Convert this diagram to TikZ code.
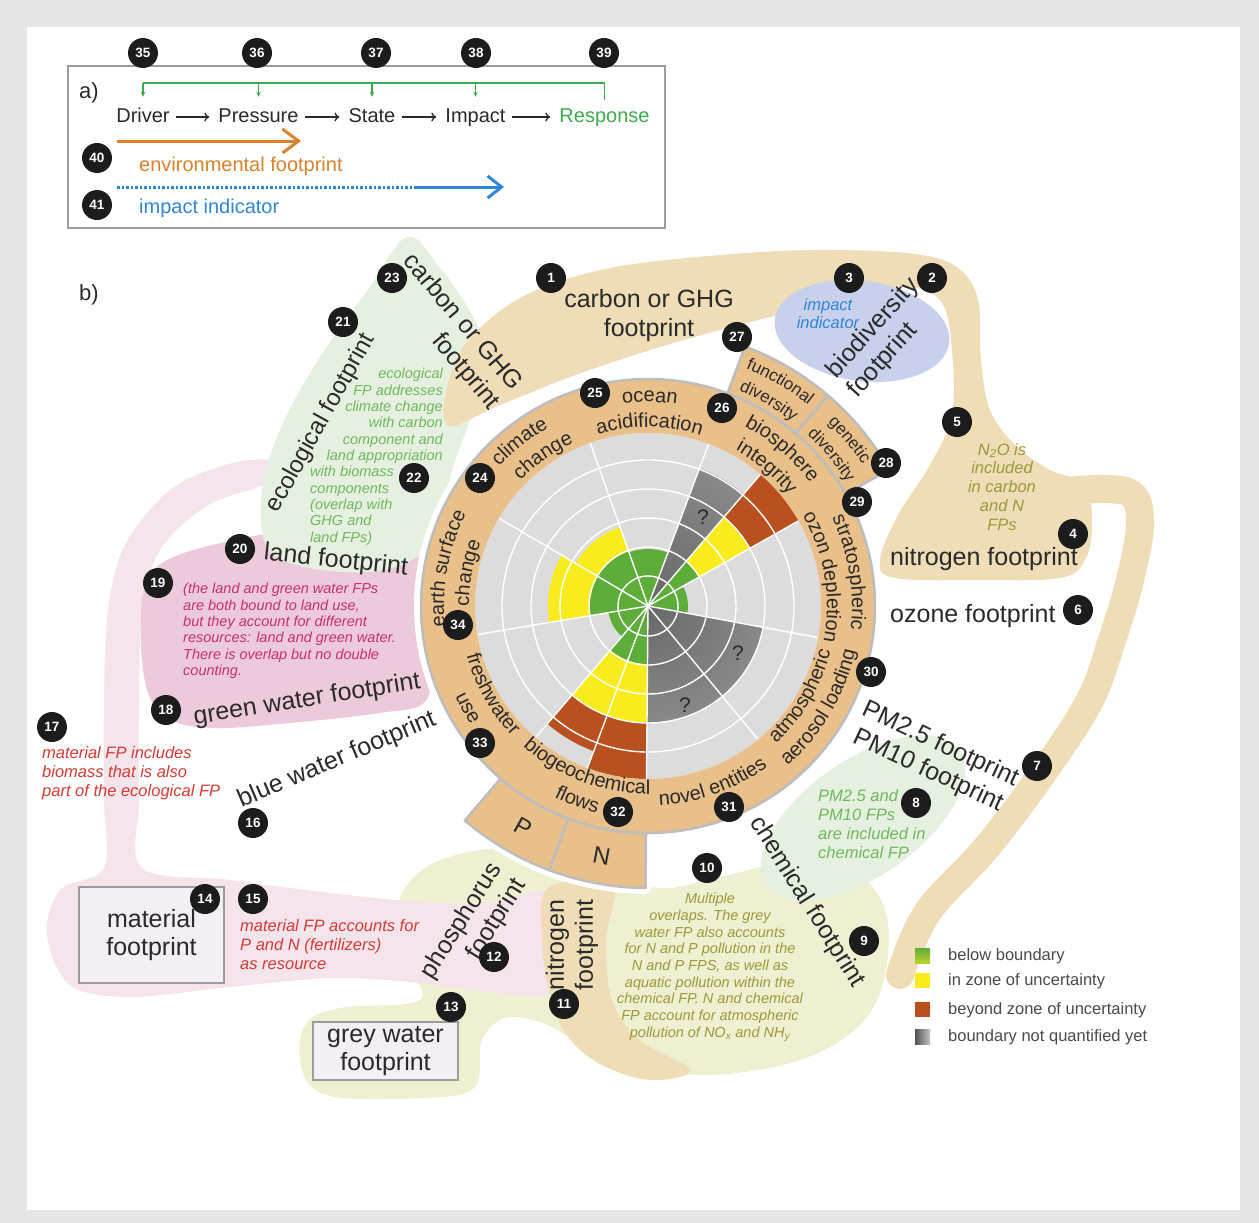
\documentclass[tikz,border=0pt]{standalone}
\usepackage{fontspec}
\setmainfont{Liberation Sans}
\usetikzlibrary{arrows.meta,decorations.text}

\definecolor{framegray}{HTML}{E6E6E6}
\definecolor{txt}{HTML}{2A2A2A}
\definecolor{badgec}{HTML}{1C1C1C}
\definecolor{ringtan}{HTML}{E9BF8A}
\definecolor{ringedge}{HTML}{BDBDBD}
\definecolor{diskgray}{HTML}{DCDCDC}
\definecolor{pbgreen}{HTML}{5EAD3B}
\definecolor{pbyellow}{HTML}{F8EC1E}
\definecolor{pbbrown}{HTML}{B9501F}
\definecolor{gdark}{HTML}{686868}
\definecolor{glight}{HTML}{A9A9A9}
\definecolor{blobtan}{HTML}{EEDDB7}
\definecolor{blobolive}{HTML}{EFEFD1}
\definecolor{blobpinklt}{HTML}{F6E4EC}
\definecolor{blobpink}{HTML}{ECCADB}
\definecolor{blobmint}{HTML}{E5F0E0}
\definecolor{blobblue}{HTML}{C9D0EC}
\definecolor{boxfill}{HTML}{F3EFF4}
\definecolor{boxedge}{HTML}{9C9C9C}
\definecolor{olivetxt}{HTML}{9A9A3A}
\definecolor{greentxt}{HTML}{70B85E}
\definecolor{redtxt}{HTML}{D43B33}
\definecolor{pinktxt}{HTML}{C8306C}
\definecolor{bluetxt}{HTML}{2F86D8}
\definecolor{orangec}{HTML}{D9812B}
\definecolor{respgreen}{HTML}{3DAA4C}

% radial fades: 50bp is the rim of the shaded circle
\pgfdeclareradialshading{greentoyellow}{\pgfpoint{0bp}{0bp}}{color(0bp)=(pbgreen); color(27bp)=(pbgreen); color(50bp)=(pbyellow); color(100bp)=(pbyellow)}
\pgfdeclareradialshading{grayfade}{\pgfpoint{0bp}{0bp}}{color(0bp)=(gdark); color(50bp)=(glight); color(100bp)=(glight)}

\newcommand\ringfont{\fontsize{20}{20}\selectfont}
\newcommand\tabfont{\fontsize{17}{17}\selectfont}
% filled wedge around the disk centre: start angle, end angle, radius, colour
\newcommand\pbsector[4]{\fill[#4] (0,0) -- (#1:#3) arc[start angle=#1,end angle=#2,radius=#3] -- cycle;}
% shaded wedge: start angle, end angle, radius, shading
\newcommand\pbshade[4]{\begin{scope}\clip (0,0) -- (#1:#3) arc[start angle=#1,end angle=#2,radius=#3] -- cycle;\shade[shading=#4] (0,0) circle (#3);\end{scope}}
% curved labels: centre angle, baseline radius, half span, text
\newcommand\cwtext[4]{\path[decorate,decoration={text along path,text align=center,text color=txt,text={#4}}] (#1+#3:#2) arc[start angle=#1+#3,end angle=#1-#3,radius=#2];}
\newcommand\ccwtext[4]{\path[decorate,decoration={text along path,text align=center,text color=txt,text={#4}}] (#1-#3:#2) arc[start angle=#1-#3,end angle=#1+#3,radius=#2];}

\begin{document}
\begin{tikzpicture}[x=1pt,y=1pt,
  badge/.style={circle,fill=badgec,text=white,minimum size=30pt,inner sep=0pt,font=\fontsize{13.5}{13.5}\selectfont\bfseries},
  biglabel/.style={text=txt,inner sep=0pt,font=\fontsize{25}{29}\selectfont},
  stepname/.style={text=txt,inner sep=0pt,font=\fontsize{20}{20}\selectfont,text height=14pt,text depth=4pt,anchor=base},
  steparrow/.style={draw=txt,line width=1.3pt,-{To[length=5pt,width=9pt]},shorten <=6pt,shorten >=9pt},
  fbline/.style={draw=respgreen,line width=1.2pt},
  noteit/.style={inner sep=0pt,font=\fontsize{14.5}{16.4}\selectfont\itshape},
  notebig/.style={inner sep=0pt,font=\fontsize{16.5}{19}\selectfont\itshape},
  boxnode/.style={draw=boxedge,fill=boxfill,line width=1.5pt,inner sep=0pt,align=center,text=txt,font=\fontsize{25}{28}\selectfont},
  legtxt/.style={inner sep=0pt,anchor=west,text=txt!85,font=\fontsize{16.5}{16.5}\selectfont},
  qmark/.style={inner sep=0pt,text=txt,font=\fontsize{21}{21}\selectfont},
  tablbl/.style={inner sep=0pt,text=txt,font=\fontsize{24}{24}\selectfont}
]
\useasboundingbox (0,0) rectangle (1259,-1223);
\fill[framegray] (0,0) rectangle (1259,-1223);
\fill[white] (27,-27) rectangle (1240,-1210);

% ---------------- panel a: DPSIR chain ----------------
\draw[boxedge,line width=1.5pt] (68,-66) rectangle (665,-228);
\node[text=txt,inner sep=0pt,font=\fontsize{22}{22}\selectfont] (pa) at (89,-93) {a)};
\node[stepname] (drv) at (143,-122) {Driver};
\node[stepname] (prs) at (258.5,-122) {Pressure};
\node[stepname] (sta) at (372,-122) {State};
\node[stepname] (imp) at (475.5,-122) {Impact};
\node[stepname,text=respgreen] (rsp) at (604.5,-122) {Response};
\draw[steparrow] (drv) -- (prs);
\draw[steparrow] (prs) -- (sta);
\draw[steparrow] (sta) -- (imp);
\draw[steparrow] (imp) -- (rsp);
\coordinate (fbtop) at (0,-83);
\draw[fbline] ([yshift=8pt]rsp.north) -- (rsp.north |- fbtop) -- (drv.north |- fbtop);
\foreach \n in {drv,prs,sta,imp}
  \draw[fbline,-{Stealth[length=5pt,width=4.5pt]}] (\n.north |- fbtop) -- ([yshift=11pt]\n.north);
\coordinate (efs) at (117,-141);
\coordinate (efe) at (301,-141);
\draw[orangec,line width=3pt,-{Straight Barb[length=16pt,width=24pt]}] (efs) -- (efe);
\node[inner sep=0pt,anchor=west,text=orangec,font=\fontsize{20}{20}\selectfont] (eflbl) at (139,-166) {environmental footprint};
\coordinate (iis) at (117,-187);
\coordinate (iim) at (417,-187);
\coordinate (iie) at (504,-187);
\draw[bluetxt,line width=3pt,dash pattern=on 2.5pt off 2pt] (iis) -- (iim);
\draw[bluetxt,line width=3pt,-{Straight Barb[length=14pt,width=22pt]}] (iim) -- (iie);
\node[inner sep=0pt,anchor=west,text=bluetxt,font=\fontsize{20}{20}\selectfont] (iilbl) at (139,-208) {impact indicator};

% ---------------- panel b: overlapping footprint areas ----------------
\node[text=txt,inner sep=0pt,font=\fontsize{22}{22}\selectfont] (pb) at (89,-295) {b)};

\fill[blobolive] plot[smooth cycle,tension=0.6] coordinates {(398,-905) (425,-868) (480,-850) (540,-852) (600,-870) (660,-888) (720,-877) (790,-862) (850,-868) (885,-910) (885,-975) (860,-1025) (800,-1060) (710,-1075) (630,-1065) (575,-1040) (540,-1022) (505,-1018) (482,-1040) (474,-1088) (420,-1098) (330,-1096) (302,-1070) (305,-1025) (340,-1008) (420,-1000) (405,-960)};
\fill[blobpinklt] plot[smooth cycle,tension=0.55] coordinates {(268,-460) (292,-476) (255,-488) (205,-507) (160,-550) (142,-610) (139,-700) (139,-800) (142,-868) (230,-880) (330,-893) (420,-902) (490,-903) (550,-892) (552,-945) (550,-993) (490,-992) (410,-982) (330,-978) (230,-987) (130,-997) (70,-985) (47,-935) (60,-890) (104,-868) (104,-800) (104,-700) (108,-610) (125,-545) (170,-490) (225,-465)};
\fill[blobtan] plot[smooth cycle,tension=0.6] coordinates {(548,-888) (612,-884) (606,-940) (612,-1000) (640,-1040) (690,-1070) (650,-1080) (600,-1064) (566,-1034) (549,-990) (542,-940)};
\draw[blobtan,line width=28pt,line cap=round] plot[smooth,tension=0.6] coordinates {(1075,-490) (1128,-492) (1140,-522) (1130,-580) (1112,-640) (1090,-700) (1045,-770) (987,-847) (927,-913) (900,-975)};
\fill[blobpink] plot[smooth cycle,tension=0.6] coordinates {(142,-600) (162,-563) (225,-542) (300,-530) (380,-530) (418,-545) (430,-600) (430,-660) (425,-702) (380,-713) (300,-722) (215,-728) (168,-718) (145,-682)};
\fill[blobmint] plot[smooth cycle,tension=0.6] coordinates {(407,-237) (440,-268) (472,-315) (488,-360) (470,-420) (452,-470) (440,-520) (420,-555) (370,-572) (300,-566) (266,-545) (262,-490) (280,-430) (318,-360) (368,-290)};
\fill[blobtan] plot[smooth cycle,tension=0.6] coordinates {(447,-425) (452,-370) (478,-330) (530,-293) (610,-268) (720,-255) (820,-250) (915,-254) (958,-268) (978,-300) (981,-360) (990,-410) (1015,-445) (1050,-470) (1085,-485) (1092,-525) (1085,-560) (1060,-578) (980,-580) (895,-578) (880,-560) (898,-515) (930,-465) (952,-415) (952,-350) (942,-303) (910,-287) (860,-295) (790,-312) (720,-330) (650,-350) (570,-377) (500,-405)};
\fill[blobmint,rotate around={35:(863,-818)}] (863,-818) ellipse[x radius=118,y radius=58];
\fill[blobblue,rotate around={-8:(862,-331)}] (862,-331) ellipse[x radius=88,y radius=50];

% ---------------- planetary boundaries wheel ----------------
\begin{scope}[shift={(648,-606)}]
  \fill[white] (0,0) circle (234);
  \foreach \a/\b/\ro in {29.5/49.5/277,49.5/69.5/277,-130.5/-110.5/282,-110.5/-90.5/282}
    \draw[white,line width=12pt,line join=round] (\a:227) arc[start angle=\a,end angle=\b,radius=227] -- (\b:\ro) arc[start angle=\b,end angle=\a,radius=\ro] -- cycle;
  \foreach \a/\b/\ro in {29.5/49.5/277,49.5/69.5/277,-130.5/-110.5/282,-110.5/-90.5/282}
    \filldraw[fill=ringtan,draw=ringedge,line width=2.5pt,line join=round] (\a:227) arc[start angle=\a,end angle=\b,radius=227] -- (\b:\ro) arc[start angle=\b,end angle=\a,radius=\ro] -- cycle;
  \fill[diskgray] (0,0) circle (173);
  % ocean acidification
  \pbshade{69.5}{109.5}{57}{greentoyellow}
  % biosphere integrity: genetic and functional diversity
  \pbsector{29.5}{49.5}{173}{pbbrown}
  \pbsector{29.5}{49.5}{117}{pbyellow}
  \pbshade{29.5}{49.5}{58}{greentoyellow}
  \pbshade{49.5}{69.5}{147}{grayfade}
  % stratospheric ozone depletion
  \pbsector{-10.5}{29.5}{40}{pbgreen}
  % atmospheric aerosol loading, novel entities
  \pbshade{-50.5}{-10.5}{117}{grayfade}
  \pbshade{-90.5}{-50.5}{117}{grayfade}
  % biogeochemical flows: N and P
  \pbsector{-110.5}{-90.5}{173}{pbbrown}
  \pbsector{-110.5}{-90.5}{117}{pbyellow}
  \pbshade{-110.5}{-90.5}{58}{greentoyellow}
  \pbsector{-130.5}{-110.5}{155}{pbbrown}
  \pbsector{-130.5}{-110.5}{117}{pbyellow}
  \pbshade{-130.5}{-110.5}{58}{greentoyellow}
  % freshwater use
  \pbsector{-170.5}{-130.5}{40}{pbgreen}
  % land-system change
  \pbsector{149.5}{189.5}{100}{pbyellow}
  \pbshade{149.5}{189.5}{58}{greentoyellow}
  % climate change
  \pbsector{109.5}{149.5}{84}{pbyellow}
  \pbshade{109.5}{149.5}{58}{greentoyellow}
  % grid
  \foreach \r in {30,59,88,117,146} \draw[white,line width=1.4pt] (0,0) circle (\r);
  \foreach \a in {29.5,49.5,69.5,109.5,149.5,189.5,229.5,249.5,269.5,309.5,349.5}
    \draw[white,line width=1.4pt] (0,0) -- (\a:173);
  % label ring
  \fill[ringtan,even odd rule] (0,0) circle (227) (0,0) circle (173);
  \draw[ringedge,line width=2.5pt] (0,0) circle (227);
  \cwtext{89.5}{204}{35}{|\ringfont|ocean}
  \cwtext{89.5}{179}{35}{|\ringfont|acidification}
  \cwtext{128}{204}{35}{|\ringfont|climate}
  \cwtext{125}{179}{35}{|\ringfont|change}
  \cwtext{49.5}{204}{35}{|\ringfont|biosphere}
  \cwtext{49.5}{179}{35}{|\ringfont|integrity}
  \cwtext{9.5}{204}{35}{|\ringfont|stratospheric}
  \cwtext{9.5}{179}{35}{|\ringfont|ozon depletion}
  \cwtext{169.5}{204}{35}{|\ringfont|earth surface}
  \cwtext{169.5}{179}{35}{|\ringfont|change}
  \ccwtext{-30.5}{188}{35}{|\ringfont|atmospheric}
  \ccwtext{-30.5}{212}{35}{|\ringfont|aerosol loading}
  \ccwtext{-70}{200}{35}{|\ringfont|novel entities}
  \ccwtext{-110.5}{188}{35}{|\ringfont|biogeochemical}
  \ccwtext{-110}{213}{35}{|\ringfont|flows}
  \ccwtext{-150.5}{188}{35}{|\ringfont|freshwater}
  \ccwtext{-150.5}{213}{35}{|\ringfont|use}
  \cwtext{59.5}{257}{25}{|\tabfont|functional}
  \cwtext{59.5}{234}{25}{|\tabfont|diversity}
  \cwtext{39.5}{257}{25}{|\tabfont|genetic}
  \cwtext{39.5}{234}{25}{|\tabfont|diversity}
  \node[tablbl,rotate=-29.5] (ptab) at (-119.5:254) {P};
  \node[tablbl,rotate=-10.5] (ntab) at (-100.5:254) {N};
\end{scope}
\node[qmark] (q1) at (703,-517) {?};
\node[qmark] (q2) at (738,-653) {?};
\node[qmark] (q3) at (685,-705) {?};

% ---------------- footprint labels ----------------
\node[biglabel,align=center] (carbonlbl) at (649,-316) {carbon or GHG\\footprint};
\node[biglabel,align=right,rotate=-50] (carbonrot) at (451,-332) {carbon or GHG\\footprint};
\node[biglabel,rotate=61,font=\fontsize{24}{28}\selectfont] (ecolbl) at (321,-423) {ecological footprint};
\node[biglabel,rotate=-6] (landlbl) at (336,-561) {land footprint};
\node[biglabel,rotate=9] (gwlbl) at (307,-700) {green water footprint};
\node[biglabel,rotate=23] (bwlbl) at (337,-760) {blue water footprint};
\node[biglabel,align=left,rotate=48] (biolbl) at (884,-338) {biodiversity\\footprint};
\node[biglabel,anchor=west] (nitlbl) at (890,-559) {nitrogen footprint};
\node[biglabel,anchor=west] (ozlbl) at (890,-616) {ozone footprint};
\node[biglabel,align=center,rotate=-25] (pmlbl) at (934,-758) {PM2.5 footprint\\PM10 footprint};
\node[biglabel,rotate=-58] (chemlbl) at (807,-902) {chemical footprint};
\node[biglabel,align=right,rotate=58] (phoslbl) at (474,-929) {phosphorus\\footprint};
\node[biglabel,align=center,rotate=90] (nitvlbl) at (572,-945) {nitrogen\\footprint};
\node[boxnode,minimum width=145pt,minimum height=96pt] (matbox) at (151.5,-935) {material\\footprint};
\node[boxnode,minimum width=145pt,minimum height=58pt] (gwbox) at (385.5,-1051) {grey water\\footprint};

% ---------------- notes ----------------
\node[noteit,text=greentxt,align=right,anchor=north east] (econote) at (443,-368) {ecological\\FP addresses\\climate change\\with carbon\\component and\\land appropriation};
\node[noteit,text=greentxt,align=left,anchor=north west] (econoteb) at (310,-466) {with biomass\\components\\(overlap with\\GHG and\\land FPs)};
\node[noteit,text=pinktxt,align=left,anchor=north west] (landnote) at (183,-583) {(the land and green water FPs\\are both bound to land use,\\but they account for different\\resources: land and green water.\\There is overlap but no double\\counting.};
\node[notebig,text=redtxt,align=left,anchor=north west] (matnote) at (42,-746) {material FP includes\\biomass that is also\\part of the ecological FP};
\node[notebig,text=redtxt,align=left,anchor=north west] (fertnote) at (240,-919) {material FP accounts for\\P and N (fertilizers)\\as resource};
\node[noteit,text=olivetxt,align=center,anchor=north,font=\fontsize{14.5}{16.7}\selectfont\itshape] (multinote) at (710,-893) {Multiple\\overlaps. The grey\\water FP also accounts\\for N and P pollution in the\\N and P FPS, as well as\\aquatic pollution within the\\chemical FP. N and chemical\\FP account for atmospheric\\pollution of NO\textsubscript{x} and NH\textsubscript{y}};
\node[notebig,text=greentxt,align=left,anchor=north west] (pmnote) at (818,-789) {PM2.5 and\\PM10 FPs\\are included in\\chemical FP};
\node[notebig,text=olivetxt,align=center,anchor=north,font=\fontsize{16.5}{18.8}\selectfont\itshape] (n2onote) at (1002,-443) {N\textsubscript{2}O is\\included\\in carbon\\and N\\FPs};
\node[notebig,text=bluetxt,align=center,font=\fontsize{16.5}{18}\selectfont\itshape] (impnote) at (828,-314) {impact\\indicator};

% ---------------- legend ----------------
\shade[top color=pbgreen,bottom color=pbgreen!40!pbyellow] (915,-948) rectangle (930,-963);
\fill[pbyellow] (915,-973) rectangle (930,-988);
\fill[pbbrown] (915,-1002) rectangle (930,-1017);
\shade[left color=gdark!80!black,right color=glight!70!white] (915,-1029) rectangle (930,-1044);
\node[legtxt] (lg1) at (948,-956) {below boundary};
\node[legtxt] (lg2) at (948,-981) {in zone of uncertainty};
\node[legtxt] (lg3) at (948,-1010) {beyond zone of uncertainty};
\node[legtxt] (lg4) at (948,-1037) {boundary not quantified yet};

% ---------------- numbered markers ----------------
\foreach \n/\x/\y in {1/551/278,2/932/278,3/849/278,4/1073/534,5/957/422,6/1078/610,7/1037/766,8/916/803,9/864/941,10/707/868,11/564/1004,12/494/957,13/451/1007,14/205/899,15/253/899,16/253/823,17/52/727,18/166/710,19/158/583,20/240/549,21/343/322,22/414/478,23/392/278,24/480/478,25/595/393,26/722/408,27/737/337,28/886/463,29/857/502,30/871/672,31/729/807,32/618/812,33/480/743,34/458/625,35/143/53,36/257/53,37/376/53,38/476/53,39/604/53,40/97/158,41/97/205}
  \node[badge] (b\n) at (\x,-\y) {\n};
\end{tikzpicture}
\end{document}
